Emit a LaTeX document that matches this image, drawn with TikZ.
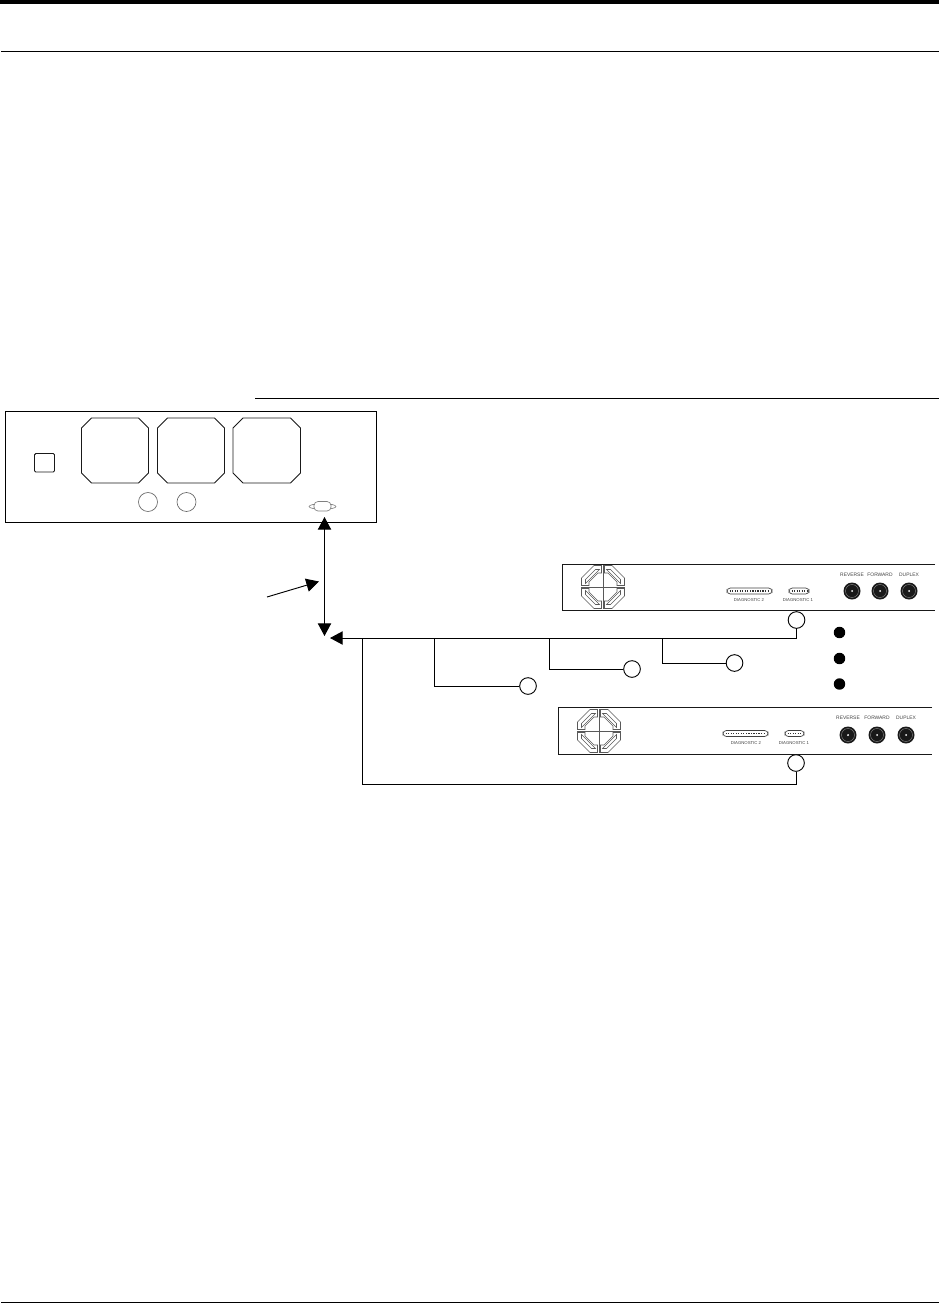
\documentclass[tikz,border=0pt]{standalone}
\usepackage{fontspec}
\setmainfont{Liberation Sans}
\usepackage{tikz}
\usetikzlibrary{arrows.meta}
\newcommand{\octa}[4]{\draw[panelline] ( #1 +10 , #2 ) -- ( #3 -10 , #2 ) -- ( #3 , #2 +10 ) -- ( #3 , #4 -10 ) -- ( #3 -10 , #4 ) -- ( #1 +10 , #4 ) -- ( #1 , #4 -10 ) -- ( #1 , #2 +10 ) -- cycle;}
\newcommand{\bncport}[2]{\fill[black!90] ( #1 , #2 ) circle (8.5); \draw[white!60!black,line width=0.25pt] ( #1 , #2 ) circle (6.5); \fill[white] ( #1 , #2 ) circle (1);}
\newcommand{\dshell}[3]{\draw[black!75,line width=0.5pt,rounded corners=2.5] ( #1 , #3 -3 ) rectangle ( #2 , #3 +3 ); \draw[black!80,line width=1.3pt,dash pattern=on 0.9pt off 1pt] ( #1 +2.5 , #3 ) -- ( #2 -2 , #3 );}
\newcommand{\emblem}[2]{\draw[black!65,line width=0.45pt] ( #1 -22 , #2 ) -- ( #1 +22 , #2 ) ( #1 , #2 -22 ) -- ( #1 , #2 +22 );
    \foreach \ang in {0,90,180,270} {
    \begin{scope}[shift={( #1 , #2 )},rotate=\ang,black!65,line width=0.45pt]
        \draw (1.5,21.5) -- (9,21.5) -- (21.5,9) -- (21.5,1.5) -- (14,1.5) -- (14,5) -- (5,14) -- (1.5,14) -- cycle;
        \draw (3.5,17.5) -- (7.5,17.5) -- (17.5,7.5) -- (17.5,3.5) -- cycle;
    \end{scope}}}
\tikzset{
    panelline/.style={line width=0.7pt,black!90},
    wire/.style={line width=0.7pt,black},
    tipwire/.style={wire,-{Triangle[length=9.5,width=10]}},
    portcircle/.style={circle,draw,line width=0.7pt,fill=white,minimum size=12.5pt,inner sep=0pt},
    dotmark/.style={circle,fill=black,minimum size=8.6pt,inner sep=0pt},
    tinylabel/.style={inner sep=0pt,black!75,font=\fontsize{3.2}{4}\selectfont},
    bnclabel/.style={tinylabel,font=\fontsize{3.7}{4}\selectfont}
}
\begin{document}
\begin{tikzpicture}[x=0.75pt,y=-0.75pt]
    \useasboundingbox (0,0) rectangle (939,1303);
    % page rules
    \fill[black] (0,0) rectangle (939,4);
    \draw[line width=0.75pt] (1,51) -- (939,51);
    \draw[line width=0.75pt] (255,398.5) -- (939,398.5);
    \draw[line width=0.75pt] (1,1302) -- (939,1302);

    % front panel
    \draw[line width=0.75pt] (5.5,411.5) rectangle (376.5,522);
    \draw[panelline,rounded corners=1] (34.5,453.5) rectangle (54.5,472);
    \octa{81.5}{418}{148.5}{483}
    \octa{157.5}{418}{224.5}{483}
    \octa{233}{418}{300.5}{483}
    \draw[black!60,line width=0.5pt] (148,502) circle (9.5);
    \draw[black!60,line width=0.5pt] (186.5,502) circle (9.5);
    \draw[black!50,line width=0.5pt] (322.5,506.5) ellipse (13.5 and 2.8);
    \filldraw[black!50,fill=white,line width=0.5pt,rounded corners=3] (314,501.5) rectangle (331,511);
    \coordinate (serial) at (324.5,517);

    % rear panel A
    \draw[panelline] (935,564.5) -- (562.5,564.5) -- (562.5,610) -- (935,610);
    \emblem{603}{587}
    \dshell{727}{772}{591}
    \dshell{789}{809}{591}
    \node[tinylabel] (diagtwoA) at (749,600) {DIAGNOSTIC 2};
    \node[tinylabel] (diagoneA) at (798,600) {DIAGNOSTIC 1};
    \node[bnclabel] (reverseA) at (852,575) {REVERSE};
    \node[bnclabel] (forwardA) at (880,575) {FORWARD};
    \node[bnclabel] (duplexA) at (909,575) {DUPLEX};
    \bncport{852}{591}
    \bncport{880}{591}
    \bncport{909}{591}

    % rear panel B
    \draw[panelline] (932,707.5) -- (558.5,707.5) -- (558.5,754) -- (932,754);
    \emblem{599}{731}
    \dshell{723}{768}{733.5}
    \dshell{785}{804}{733.5}
    \node[tinylabel] (diagtwoB) at (746,743) {DIAGNOSTIC 2};
    \node[tinylabel] (diagoneB) at (794,743) {DIAGNOSTIC 1};
    \node[bnclabel] (reverseB) at (848,718) {REVERSE};
    \node[bnclabel] (forwardB) at (877,718) {FORWARD};
    \node[bnclabel] (duplexB) at (906,718) {DUPLEX};
    \bncport{848}{735}
    \bncport{877}{735}
    \bncport{906}{735}

    % port circles
    \node[portcircle] (portA) at (796.5,620) {};
    \node[portcircle] (portB) at (796,763) {};
    \node[portcircle] (portC) at (528,686) {};
    \node[portcircle] (portD) at (632,669) {};
    \node[portcircle] (portE) at (734.5,663) {};

    % key dots
    \node[dotmark] (dotA) at (839.5,632.5) {};
    \node[dotmark] (dotB) at (839.5,658.5) {};
    \node[dotmark] (dotC) at (839.5,684) {};

    % wiring
    \coordinate (hub) at (324.5,636);
    \coordinate (bustip) at (330,638);
    \coordinate (busend) at (796.5,638);
    \coordinate (ptrstart) at (267,597);
    \coordinate (ptrend) at (319,581.5);
    \draw[wire,{Triangle[length=9.5,width=10]}-{Triangle[length=9.5,width=10]}] (serial) -- (hub);
    \draw[tipwire] (ptrstart) -- (ptrend);
    \draw[tipwire] (portA.south) -- (busend) -- (bustip);
    \draw[wire] (362,638) -- (362,784) -- (portB.south |- 0,784) -- (portB.south);
    \draw[wire] (434.5,638) -- (434.5,686) -- (portC.west);
    \draw[wire] (549,638) -- (549,669) -- (portD.west);
    \draw[wire] (662.5,638) -- (662.5,663) -- (portE.west);
\end{tikzpicture}
\end{document}
